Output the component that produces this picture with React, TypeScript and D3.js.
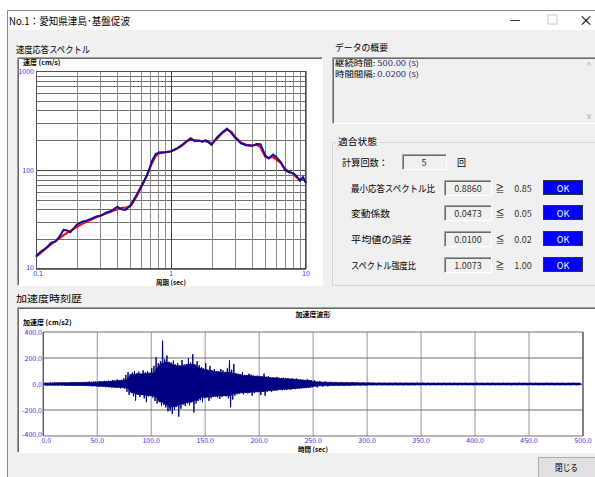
import React from 'react';
import * as d3 from 'd3';

// ---- response spectrum (period s, velocity cm/s) ----
const periods = [0.1, 0.11, 0.12, 0.13, 0.14, 0.15, 0.16, 0.17, 0.18, 0.2, 0.22, 0.24, 0.26, 0.28, 0.3, 0.33, 0.36, 0.4, 0.43, 0.46, 0.5, 0.53, 0.56, 0.6, 0.64, 0.68, 0.72, 0.77, 0.82, 0.88, 0.95, 1.0, 1.1, 1.2, 1.3, 1.4, 1.5, 1.6, 1.7, 1.8, 1.9, 2.0, 2.2, 2.4, 2.6, 2.8, 3.0, 3.3, 3.6, 4.0, 4.3, 4.6, 5.0, 5.3, 5.7, 6.0, 6.5, 7.0, 7.5, 8.0, 8.5, 9.0, 9.5, 10];
const targetSpec = [13.2, 14.8, 16.3, 17.8, 19.3, 20.6, 22, 23.2, 24.4, 26.5, 28.5, 30.3, 31.8, 33.2, 34.5, 36.3, 38, 40, 41.5, 41.5, 43, 48, 55, 66, 79, 95, 115, 138, 148, 150, 152, 155, 163, 175, 192, 203, 200, 196, 196, 195, 192, 186, 208, 236, 255, 245, 215, 190, 180, 178, 180, 170, 135, 133, 135, 128, 118, 103, 96, 92, 84, 80, 82, 75];
const calcSpec = [13.5, 15.2, 16.5, 18.5, 19, 21.5, 24.8, 24.5, 23.5, 28, 30, 31, 32.5, 34, 34.5, 37, 38.5, 42.5, 40, 39.5, 44, 50, 57, 68, 80, 96, 122, 145, 151, 150, 153, 154, 165, 178, 195, 209, 196, 200, 192, 200, 190, 180, 215, 240, 262, 236, 210, 186, 178, 175, 183, 182, 140, 131, 143, 136, 120, 100, 95, 93, 87, 78, 85, 74];
const specXLabels = [0.1, 1, 10];
const specYLabels = [10, 100, 1000];

// ---- acceleration history: peak per bin (cm/s2) ----
const accelBin = 2; // 0 - 250 s
const accelPos = [
  9, 10, 8, 11, 10, 12, 9, 11, 12, 10,
  13, 11, 12, 14, 12, 13, 15, 12, 14, 16,
  15, 17, 14, 18, 20, 17, 22, 19, 24, 21,
  26, 23, 30, 27, 35, 28, 32, 45, 70, 92,
  75, 88, 100, 82, 95, 78, 105, 90, 98, 85,
  120, 140, 205, 160, 175, 333, 190, 220, 170, 165,
  180, 150, 160, 140, 185, 150, 155, 200, 165, 230,
  150, 175, 145, 130, 120, 161, 110, 140, 105, 115,
  100, 95, 115, 105, 90, 120, 184, 110, 154, 85,
  78, 75, 90, 70, 65, 80, 72, 66, 60, 64,
  62, 58, 80, 55, 60, 52, 50, 48, 55, 47,
  45, 50, 42, 46, 40, 44, 38, 42, 36, 35,
  33, 30, 36, 28, 30,
];
const accelNeg = [
  -9, -11, -10, -9, -12, -10, -11, -9, -12, -11,
  -12, -13, -11, -14, -12, -15, -13, -14, -12, -15,
  -16, -14, -18, -16, -19, -22, -18, -21, -25, -23,
  -24, -28, -26, -30, -27, -34, -29, -36, -60, -85,
  -70, -95, -128, -80, -100, -85, -110, -140, -95, -90,
  -105, -130, -150, -140, -170, -160, -180, -210, -205, -230,
  -200, -175, -251, -190, -160, -170, -150, -165, -140, -218,
  -150, -130, -125, -140, -110, -102, -130, -110, -100, -95,
  -105, -115, -100, -90, -95, -110, -179, -120, -90, -80,
  -75, -70, -80, -68, -72, -65, -90, -70, -62, -60,
  -85, -60, -90, -58, -55, -62, -50, -52, -48, -45,
  -48, -42, -45, -40, -44, -38, -40, -36, -35, -33,
  -32, -30, -28, -27, -25,
];
const tailStart = 250;
const tailBin = 5; // 250 - 500 s
const tailPos = [
  28, 22, 18, 15, 14, 13, 12, 14, 11, 12,
  10, 9, 11, 8, 9, 10, 8, 9, 8, 10,
  8, 9, 7, 8, 9, 8, 7, 8, 9, 7,
  8, 7, 8, 9, 7, 8, 8, 7, 9, 8,
  7, 8, 7, 9, 8, 7, 8, 7, 8, 7,
];
const tailNeg = [
  -26, -20, -17, -14, -13, -12, -13, -11, -12, -10,
  -9, -10, -8, -9, -8, -9, -10, -8, -9, -8,
  -8, -7, -9, -8, -7, -8, -9, -7, -8, -8,
  -7, -8, -9, -7, -8, -7, -8, -9, -7, -8,
  -8, -7, -8, -7, -9, -8, -7, -8, -7, -8,
];
const accelXLabels = [0, 50, 100, 150, 200, 250, 300, 350, 400, 450, 500];
const accelYLabels = [400, 200, 0, -200, -400];

// ---- right panel ----
const summary = [['継続時間: ', '500.00 (s)'], ['時間間隔: ', '0.0200 (s)']];
const calcCount = '5';
const checkNames = ['最小応答スペクトル比', '変動係数', '平均値の誤差', 'スペクトル強度比'];
const checkNameWidths = [84, 39, 61, 65];
const checkValues = ['0.8860', '0.0473', '0.0100', '1.0073'];
const checkOps = ['≧', '≦', '≦', '≧'];
const checkLimits = ['0.85', '0.05', '0.02', '1.00'];

const UI = '"Noto Sans CJK JP", "Noto Sans", sans-serif';

const Sunken = ({ x, y, w, h, fill = '#f0f0f0' }: any) => (
  <g>
    <rect x={x} y={y} width={w} height={h} fill={fill} />
    <path d={`M${x + 0.5},${y + h} V${y + 0.5} H${x + w}`} stroke="#a0a0a0" fill="none" />
    <path d={`M${x + 1.5},${y + h - 1} V${y + 1.5} H${x + w - 1}`} stroke="#696969" fill="none" />
    <path d={`M${x + 0.5},${y + h - 0.5} H${x + w - 0.5} V${y}`} stroke="#ffffff" fill="none" />
  </g>
);

const Label = ({ x, y, w, size = 9.5, children, fill = '#000' }: any) => (
  <text x={x} y={y} fontSize={size} fill={fill} textLength={w} lengthAdjust="spacingAndGlyphs">{children}</text>
);

const App = () => {
  // spectrum scales
  const sx = d3.scaleLog().domain([0.1, 10]).range([36, 306]);
  const sy = d3.scaleLog().domain([10, 1000]).range([269, 71]);
  const minorX: number[] = [];
  [0.1, 1].forEach(dec => d3.range(1, 10).forEach(k => minorX.push(k * dec)));
  minorX.push(10);
  const minorY: number[] = [];
  [10, 100].forEach(dec => d3.range(1, 10).forEach(k => minorY.push(k * dec)));
  minorY.push(1000);
  const specLine = d3.line<number>().x((_, i) => sx(periods[i])).y(d => sy(d));

  // accel scales
  const ax = d3.scaleLinear().domain([0, 500]).range([43.3, 583]);
  const ay = d3.scaleLinear().domain([-400, 400]).range([436, 332]);
  const bins: { t: number; w: number; p: number; n: number }[] = [];
  accelPos.forEach((p, i) => bins.push({ t: i * accelBin, w: accelBin, p, n: accelNeg[i] }));
  tailPos.forEach((p, i) => bins.push({ t: tailStart + i * tailBin, w: tailBin, p, n: tailNeg[i] }));
  // spikes: alternate between each bin's max and min
  const wave: [number, number][] = [];
  bins.forEach(b => {
    wave.push([b.t + b.w * 0.25, b.p]);
    wave.push([b.t + b.w * 0.75, b.n]);
  });
  // dense core: the smallest peak among neighbouring bins
  const core = bins.map((b, i) => {
    const nb = bins.slice(Math.max(0, i - 2), i + 3);
    return { t: b.t + b.w / 2, p: d3.min(nb, d => d.p) as number, n: d3.max(nb, d => d.n) as number };
  });
  const waveLine = d3.line<[number, number]>().x(d => ax(d[0])).y(d => ay(d[1]));
  const coreArea = d3.area<{ t: number; p: number; n: number }>()
    .x(d => ax(d.t)).y0(d => ay(d.n)).y1(d => ay(d.p));

  const rowY = [188, 213, 239, 265];

  return (
    <svg width={595} height={477} style={{ position: 'absolute', left: 0, top: 0 }} fontFamily={UI}>
      <rect width={595} height={477} fill="#ffffff" />
      {/* window */}
      <rect x={7} y={30} width={600} height={460} fill="#f0f0f0" />
      <path d="M7.5,477 V10.5 H600" stroke="#888" fill="none" />
      <Label x={9} y={25} w={121} size={10}>No.1：愛知県津島･基盤促波</Label>
      <text x={515} y={24} fontSize={12} textAnchor="middle" fill="#000">—</text>
      <rect x={548} y={15} width={9} height={9} fill="none" stroke="#c8c8c8" />
      <text x={586} y={25} fontSize={14} textAnchor="middle" fill="#000">×</text>

      {/* spectrum panel */}
      <Label x={16} y={53} w={74}>速度応答スペクトル</Label>
      <Sunken x={17} y={57} w={306} h={229} fill="#ffffff" />
      <g>
        {minorY.map(v => (
          <line key={'hy' + v} x1={36} x2={306} y1={Math.round(sy(v)) + 0.5} y2={Math.round(sy(v)) + 0.5}
            stroke={v === 100 ? '#404040' : '#707070'} strokeWidth={1} />
        ))}
        {minorX.map(v => (
          <line key={'vx' + v} y1={71} y2={269} x1={Math.round(sx(v)) + 0.5} x2={Math.round(sx(v)) + 0.5}
            stroke={v === 1 ? '#404040' : '#8a8a8a'} strokeWidth={1} />
        ))}
        <rect x={36.5} y={71.5} width={269} height={197} fill="none" stroke="#505050" />
        <path d={specLine(targetSpec) || ''} fill="none" stroke="#ff0000" strokeWidth={2} />
        <path d={specLine(calcSpec) || ''} fill="none" stroke="#10109a" strokeWidth={2} />
        {specYLabels.map(v => (
          <text key={'yl' + v} x={34} y={sy(v) + (v === 10 ? 1 : 2.5)} fontSize={7} textAnchor="end" fill="#3030ff">{v}</text>
        ))}
        {specXLabels.map(v => (
          <text key={'xl' + v} x={sx(v) + (v === 0.1 ? 2 : 0)} y={276} fontSize={7} textAnchor="middle" fill="#3030ff">{v}</text>
        ))}
        <text x={23} y={65} fontSize={7} fontWeight="bold" fill="#000">速度 (cm/s)</text>
        <text x={171} y={284.5} fontSize={6.5} fontWeight="bold" textAnchor="middle" fill="#000">周期 (sec)</text>
      </g>

      {/* summary */}
      <Label x={335} y={51} w={53}>データの概要</Label>
      <Sunken x={332} y={57} w={270} h={67} />
      {summary.map((s, i) => (
        <text key={'s' + i} x={335} y={66 + i * 11} fontSize={7.5} textLength={84} lengthAdjust="spacingAndGlyphs">
          <tspan fill="#000">{s[0]}</tspan>
          <tspan fill="#303070">{s[1]}</tspan>
        </text>
      ))}
      <text x={589} y={68} fontSize={8} textAnchor="middle" fill="#a0a0a0">^</text>
      <text x={589} y={119} fontSize={8} textAnchor="middle" fill="#a0a0a0">v</text>

      {/* fit state group */}
      <path d="M336,142.5 H332.5 V285.5 H600" stroke="#d5d5d5" fill="none" />
      <path d="M380,142.5 H600" stroke="#d5d5d5" fill="none" />
      <Label x={338} y={145} w={39}>適合状態</Label>
      <Label x={342} y={166} w={46}>計算回数：</Label>
      <Sunken x={402} y={154} w={45} h={16} />
      <text x={424} y={166} fontSize={9} textAnchor="middle" fill="#222">{calcCount}</text>
      <Label x={457} y={166} w={9}>回</Label>
      {checkNames.map((n, i) => (
        <g key={'c' + i}>
          <Label x={351} y={rowY[i] + 3.5} w={checkNameWidths[i]}>{n}</Label>
          <Sunken x={444} y={rowY[i] - 8} w={48} h={16} />
          <text x={468} y={rowY[i] + 3.5} fontSize={9} textAnchor="middle" fill="#333">{checkValues[i]}</text>
          <text x={500} y={rowY[i] + 3.5} fontSize={9} textAnchor="middle" fill="#000">{checkOps[i]}</text>
          <text x={523} y={rowY[i] + 3.5} fontSize={9} textAnchor="middle" fill="#333">{checkLimits[i]}</text>
          <rect x={543.5} y={rowY[i] - 7.5} width={39} height={14} fill="#0000ff" stroke="#303030" />
          <text x={563} y={rowY[i] + 3.5} fontSize={9} textAnchor="middle" fill="#ffffff">OK</text>
        </g>
      ))}

      {/* accel panel */}
      <Label x={16} y={302} w={66}>加速度時刻歴</Label>
      <Sunken x={17} y={307} w={600} h={146} fill="#ffffff" />
      <g>
        {accelXLabels.map(v => (
          <line key={'ag' + v} x1={ax(v)} x2={ax(v)} y1={332} y2={436} stroke="#a8a8a8" strokeWidth={1.2} />
        ))}
        {accelYLabels.map(v => (
          <line key={'ah' + v} x1={43.3} x2={583} y1={ay(v)} y2={ay(v)} stroke="#707070" strokeWidth={1.2} />
        ))}
        <path d={coreArea(core) || ''} fill="#000080" stroke="#000080" strokeWidth={0.6} />
        <path d={waveLine(wave) || ''} fill="none" stroke="#000080" strokeWidth={1} />
        <line x1={583} x2={583} y1={332} y2={436} stroke="#505050" strokeWidth={1.2} />
        <line x1={43.3} x2={43.3} y1={332} y2={436} stroke="#505050" strokeWidth={1.2} />
        {accelYLabels.map(v => (
          <text key={'ayl' + v} x={42} y={ay(v) + (v === -400 ? 1 : 2.5)} fontSize={7} textAnchor="end" fill="#3030ff">{v.toFixed(1)}</text>
        ))}
        {accelXLabels.map(v => (
          <text key={'axl' + v} x={ax(v) + (v === 0 ? 3 : 0)} y={443} fontSize={7} textAnchor="middle" fill="#3030ff">{v.toFixed(1)}</text>
        ))}
        <text x={23} y={325} fontSize={7} fontWeight="bold" fill="#000">加速度 (cm/s2)</text>
        <text x={313} y={317} fontSize={7} fontWeight="bold" textAnchor="middle" fill="#000">加速度波形</text>
        <text x={313} y={451.5} fontSize={6.5} fontWeight="bold" textAnchor="middle" fill="#000">時間 (sec)</text>
      </g>

      {/* close button */}
      <rect x={538.5} y={457.5} width={70} height={22} fill="#e1e1e1" stroke="#adadad" />
      <Label x={555} y={471} w={23}>閉じる</Label>
    </svg>
  );
};

export default App;
